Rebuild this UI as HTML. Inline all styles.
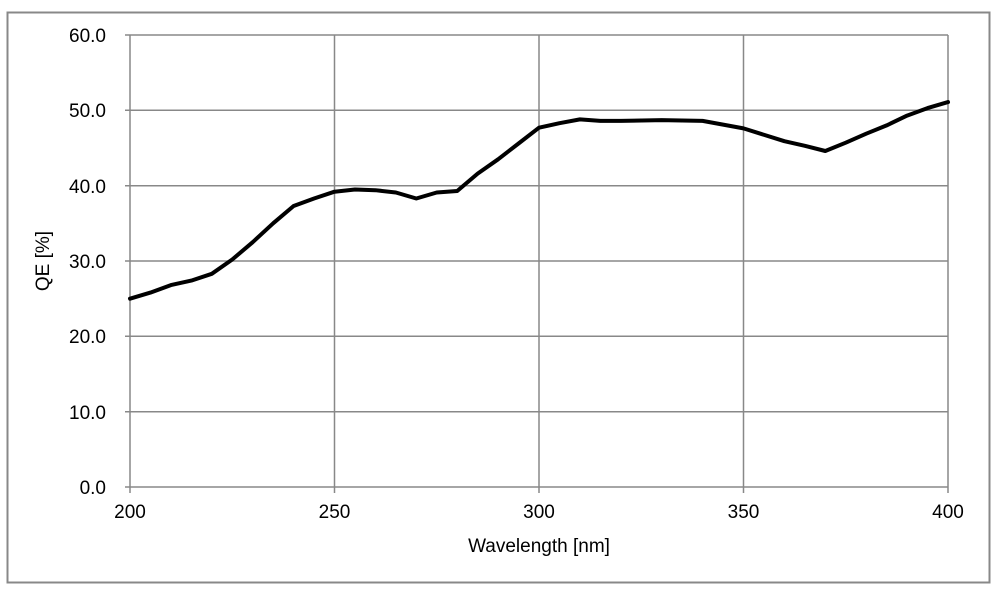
<!DOCTYPE html>
<html><head><meta charset="utf-8"><style>
html,body{margin:0;padding:0;background:#fff;}
svg{display:block;}
text{font-family:"Liberation Sans",Arial,sans-serif;font-size:19px;fill:#000;}
</style></head><body>
<svg width="1000" height="597" viewBox="0 0 1000 597">
<rect x="7.5" y="12.5" width="982" height="570" fill="#fff" stroke="#888" stroke-width="2"/>
<g stroke="#888" stroke-width="1.5" fill="none">
<line x1="125" y1="35" x2="948" y2="35"/>
<line x1="125" y1="110.3" x2="948" y2="110.3"/>
<line x1="125" y1="185.7" x2="948" y2="185.7"/>
<line x1="125" y1="261" x2="948" y2="261"/>
<line x1="125" y1="336.3" x2="948" y2="336.3"/>
<line x1="125" y1="411.7" x2="948" y2="411.7"/>
<line x1="125" y1="487" x2="948" y2="487"/>
<line x1="130" y1="35" x2="130" y2="493"/>
<line x1="334.5" y1="35" x2="334.5" y2="493"/>
<line x1="539" y1="35" x2="539" y2="493"/>
<line x1="743.5" y1="35" x2="743.5" y2="493"/>
<line x1="948" y1="35" x2="948" y2="493"/>
</g>
<g text-anchor="end">
<text x="106" y="42">60.0</text>
<text x="106" y="117">50.0</text>
<text x="106" y="193">40.0</text>
<text x="106" y="268">30.0</text>
<text x="106" y="343">20.0</text>
<text x="106" y="419">10.0</text>
<text x="106" y="494">0.0</text>
</g>
<g text-anchor="middle">
<text x="130" y="518">200</text>
<text x="334.5" y="518">250</text>
<text x="539" y="518">300</text>
<text x="743.5" y="518">350</text>
<text x="948" y="518">400</text>
<text x="539" y="552">Wavelength [nm]</text>
<text transform="translate(49,261) rotate(-90)">QE [%]</text>
</g>
<polyline fill="none" stroke="#000" stroke-width="4" stroke-linejoin="round" stroke-linecap="round"
points="130,298.7 150.45,292.6 170.9,285.1 191.35,280.6 211.8,273.8 232.25,259.5 252.7,242.2 273.15,223.3 293.6,206 314.05,198.5 334.5,191.7 354.95,189.5 375.4,190.2 395.85,192.5 416.3,198.5 436.75,192.5 457.2,191 477.65,173.6 498.1,159.3 518.55,143.5 539,127.7 559.45,123.2 579.9,119.4 600.35,120.9 620.8,120.9 661.7,120.1 702.6,120.9 743.5,128.4 784.4,141.2 804.85,145.8 825.3,151 845.75,142.7 866.2,133.7 886.65,125.4 907.1,115.6 927.55,108.1 948,102.1"/>
</svg>
</body></html>
